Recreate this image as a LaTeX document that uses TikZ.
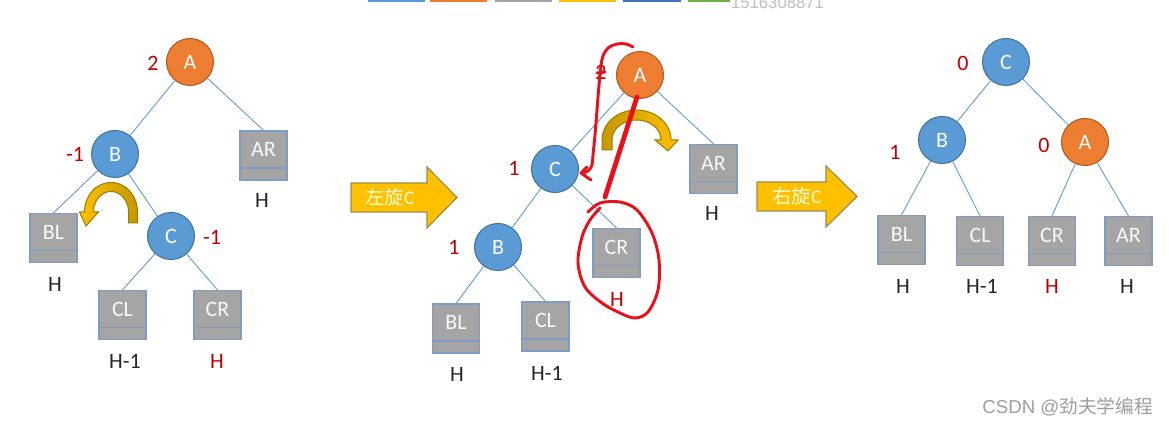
\documentclass[tikz,border=0pt]{standalone}
\usepackage{fontspec}
\setmainfont{Carlito}
\newfontfamily\cjkf{Noto Sans CJK SC}
\newfontfamily\wmf{Liberation Sans}
\definecolor{nblue}{HTML}{5B9BD5}
\definecolor{nbluedk}{HTML}{41719C}
\definecolor{norange}{HTML}{ED7D31}
\definecolor{norangedk}{HTML}{AE5A21}
\definecolor{bgray}{HTML}{A5A5A5}
\definecolor{bline}{HTML}{7D9DC4}
\definecolor{lred}{HTML}{C00000}
\definecolor{pen}{HTML}{E8101A}
\definecolor{ygold}{HTML}{FFC000}
\definecolor{ygolddk}{HTML}{C49800}
\definecolor{yborder}{HTML}{9E8B50}
\definecolor{conncol}{HTML}{6FA3D6}
\definecolor{bar1}{HTML}{5B9BD5}
\definecolor{bar2}{HTML}{ED7D31}
\definecolor{bar3}{HTML}{A5A5A5}
\definecolor{bar4}{HTML}{FFC000}
\definecolor{bar5}{HTML}{4472C4}
\definecolor{bar6}{HTML}{70AD47}
\tikzset{
 bnode/.style={circle, fill=nblue, draw=nbluedk, line width=0.75pt, minimum size=35.25pt, inner sep=0pt, text=white, font=\fontsize{16.5}{19}\selectfont},
 onode/.style={bnode, fill=norange, draw=norangedk},
 gbox/.style={rectangle, fill=bgray, draw=bline, line width=0.9pt, minimum width=35.25pt, minimum height=36.75pt, inner sep=0pt,
   path picture={\draw[bline, line width=0.9pt] ([yshift=9pt]path picture bounding box.south west) -- ([yshift=9pt]path picture bounding box.south east);}},
 btxt/.style={text=white!95!gray, font=\fontsize{16.5}{19}\selectfont, inner sep=0pt},
 htxt/.style={text=black!85, font=\fontsize{16.5}{19}\selectfont, inner sep=0pt},
 rtxt/.style={text=lred, font=\fontsize{16.5}{19}\selectfont, inner sep=0pt},
 conn/.style={draw=conncol, line width=0.75pt},
 blockarrow/.style={fill=ygold, draw=yborder, line width=0.9pt},
 arrowtxt/.style={text=white!85!yellow, font=\fontsize{14.5}{17}\selectfont, inner sep=0pt},
 curvearrow/.style={draw=ygolddk!80!black, line width=0.75pt},
 redpen/.style={draw=pen, line width=2.2pt, line cap=round, line join=round},
}
\newcommand\gboxat[4]{\node[gbox] (#1) at (#2,#3) {}; \node[btxt] (#1t) at ([yshift=4.5pt]#1.center) {#4};}
\begin{document}
\begin{tikzpicture}[x=0.75pt,y=-0.75pt]
\useasboundingbox (0,0) rectangle (1169,427);
\fill[white] (0,0) rectangle (1169,427);
\begin{scope}
\clip (0,0) rectangle (1169,427);
\fill[bar1] (368,-20) rectangle (425,2.5);
\fill[bar2] (430,-20) rectangle (487,2.5);
\fill[bar3] (495,-20) rectangle (552,2.5);
\fill[bar4] (559,-20) rectangle (616,2.5);
\fill[bar5] (623,-20) rectangle (681,2.5);
\fill[bar6] (688,-20) rectangle (730,2.5);
\node[anchor=base, text=black!25, font=\wmf\fontsize{12.5}{14}\selectfont, inner sep=0pt] (topid) at (777.5,9) {1516308871};
\end{scope}

% ---------- left tree ----------
\node[onode] (lA) at (190,62) {A};
\node[bnode] (lB) at (115,154) {B};
\node[bnode] (lC) at (171,236) {C};
\gboxat{lAR}{263.5}{155.5}{AR}
\gboxat{lBL}{53.5}{238}{BL}
\gboxat{lCL}{122.5}{315}{CL}
\gboxat{lCR}{217.5}{315}{CR}
\draw[conn] (lA) -- (lB);
\draw[conn] (lA) -- (lAR.north);
\draw[conn] (lB) -- (lBL.north);
\draw[conn] (lB) -- (lC);
\draw[conn] (lC) -- (lCL.north);
\draw[conn] (lC) -- (lCR.north);
\node[rtxt] (lbA) at (153,63) {2};
\node[rtxt] (lbB) at (75,154) {-1};
\node[rtxt] (lbC) at (212,237) {-1};
\node[htxt] (hlAR) at (262,200) {H};
\node[htxt] (hlBL) at (55,284) {H};
\node[htxt] (hlCL) at (125,361) {H-1};
\node[rtxt] (hlCR) at (217,361) {H};
\path[curvearrow, left color=ygold, right color=ygolddk]
  (128.5,223) -- (137.5,223)
  -- plot[domain=0:180,samples=40,variable=\t] ({111+26.5*cos(\t)},{212-29.5*sin(\t)})
  -- (79.5,212) -- (86,226) -- (98.5,212)
  -- plot[domain=180:0,samples=40,variable=\t] ({111+17.5*cos(\t)},{212-20.5*sin(\t)})
  -- cycle;

% ---------- arrow 1 ----------
\path[blockarrow] (351,183) -- (427,183) -- (427,167) -- (457,197.5) -- (427,228) -- (427,212) -- (351,212) -- cycle;
\node[arrowtxt] (t1) at (390,197) {{\cjkf 左旋}C};

% ---------- middle tree ----------
\node[onode] (mA) at (640,75) {A};
\node[bnode] (mC) at (555,169) {C};
\node[bnode] (mB) at (498,247) {B};
\gboxat{mAR}{713.5}{169}{AR}
\gboxat{mCR}{616.5}{253}{CR}
\gboxat{mBL}{456}{328.5}{BL}
\gboxat{mCL}{545.5}{326.5}{CL}
\draw[conn] (mA) -- (mC);
\draw[conn] (mA) -- (mAR.north);
\draw[conn] (mC) -- (mB);
\draw[conn] (mC) -- (mCR.north);
\draw[conn] (mB) -- (mBL.north);
\draw[conn] (mB) -- (mCL.north);
\node[rtxt] (lbmA) at (601,72) {2};
\node[rtxt] (lbmC) at (514,168) {1};
\node[rtxt] (lbmB) at (454,247) {1};
\node[htxt] (hmAR) at (712,213) {H};
\node[rtxt] (hmCR) at (617,299) {H};
\node[htxt] (hmBL) at (457,374) {H};
\node[htxt] (hmCL) at (547,373) {H-1};
\path[curvearrow, left color=ygolddk, right color=ygold]
  (612,150) -- (602,150)
  -- plot[domain=180:0,samples=40,variable=\t] ({636.5+34.5*cos(\t)},{140-30*sin(\t)})
  -- (678,140) -- (668,151) -- (655,140)
  -- plot[domain=0:180,samples=40,variable=\t] ({636.5+24.5*cos(\t)},{140-20*sin(\t)})
  -- cycle;

% ---------- arrow 2 ----------
\path[blockarrow] (757,182) -- (826,182) -- (826,166) -- (857,196.5) -- (826,227) -- (826,211) -- (757,211) -- cycle;
\node[arrowtxt] (t2) at (797,196) {{\cjkf 右旋}C};

% ---------- right tree ----------
\node[bnode] (rC) at (1006,62) {C};
\node[bnode] (rB) at (942,140) {B};
\node[onode] (rA) at (1085,142) {A};
\gboxat{rBL}{901.5}{240}{BL}
\gboxat{rCL}{980}{241}{CL}
\gboxat{rCR}{1052}{241}{CR}
\gboxat{rAR}{1128.5}{241}{AR}
\draw[conn] (rC) -- (rB);
\draw[conn] (rC) -- (rA);
\draw[conn] (rB) -- (rBL.north);
\draw[conn] (rB) -- (rCL.north);
\draw[conn] (rA) -- (rCR.north);
\draw[conn] (rA) -- (rAR.north);
\node[rtxt] (lbrC) at (963,63) {0};
\node[rtxt] (lbrB) at (895,152) {1};
\node[rtxt] (lbrA) at (1044,145) {0};
\node[htxt] (hrBL) at (903,286) {H};
\node[htxt] (hrCL) at (982,286) {H-1};
\node[rtxt] (hrCR) at (1052,286) {H};
\node[htxt] (hrAR) at (1127,286) {H};

% ---------- red pen annotations ----------
\draw[redpen] plot[smooth, tension=0.6] coordinates {(633,47) (626,44) (617,44) (608,48) (603,56) (601,66) (599,85) (597,110) (595,135) (593,155) (592,165) (588,171) (582,173)};
\draw[redpen] (587,167) -- (581,173) -- (591,180);
\draw[redpen] (597,73) -- (605,72);
\draw[redpen, line width=3.6pt] (637,97) -- (605,197);
\draw[redpen] plot[smooth, tension=0.55] coordinates {(588,212) (600,203) (620,202) (637,210) (652,233) (659,260) (658,290) (648,312) (635,318) (620,313) (602,303) (585,287) (578,263) (582,237) (590,220) (600,208)};

% ---------- watermark ----------
\node[anchor=base east, text=black!38, font=\fontsize{14}{16}\selectfont, inner sep=0pt] (wm) at (1153,413) {{\wmf CSDN @}{\cjkf 劲夫学编程}};
\end{tikzpicture}
\end{document}
